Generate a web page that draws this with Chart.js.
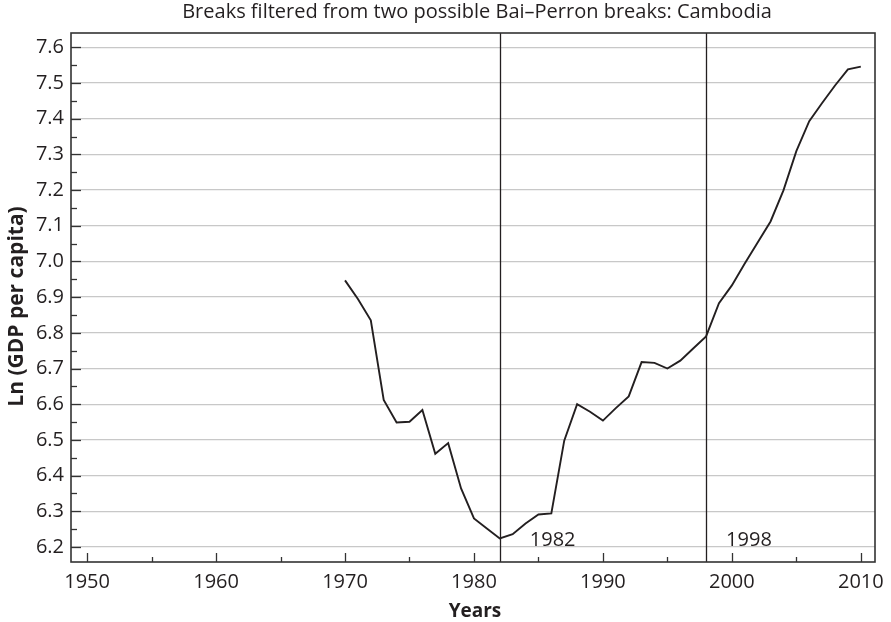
<!DOCTYPE html>
<html><head><meta charset="utf-8">
<script src="https://cdn.jsdelivr.net/npm/chart.js@4.4.0/dist/chart.umd.min.js"></script>
<style>html,body{margin:0;padding:0;background:#fff;}</style>
</head><body>
<canvas id="c" width="891" height="622"></canvas>
<script>
const chartTitle = 'Breaks filtered from two possible Bai\u2013Perron breaks: Cambodia';
const xAxisTitle = 'Years';
const yAxisTitle = 'Ln (GDP per capita)';
const years = [1970,1971,1972,1973,1974,1975,1976,1977,1978,1979,
               1980,1981,1982,1983,1984,1985,1986,1987,1988,1989,
               1990,1991,1992,1993,1994,1995,1996,1997,1998,1999,
               2000,2001,2002,2003,2004,2005,2006,2007,2008,2009,2010];
const lnGdp = [6.947,6.895,6.835,6.612,6.549,6.551,6.584,6.461,6.491,6.364,
               6.280,6.252,6.224,6.236,6.266,6.291,6.294,6.498,6.600,6.579,
               6.554,6.589,6.622,6.718,6.716,6.700,6.722,6.756,6.790,6.883,
               6.933,6.994,7.053,7.112,7.199,7.309,7.393,7.444,7.493,7.538,7.546];
const breakYears = [1982, 1998];
const breakLabels = ['1982', '1998'];
const xTickValues = [1950,1960,1970,1980,1990,2000,2010];
const xMinorTickValues = [1955,1965,1975,1985,1995,2005];
const yTickValues = [6.2,6.3,6.4,6.5,6.6,6.7,6.8,6.9,7.0,7.1,7.2,7.3,7.4,7.5,7.6];
const yMinorTickValues = [6.25,6.35,6.45,6.55,6.65,6.75,6.85,6.95,7.05,7.15,7.25,7.35,7.45,7.55];

const FONT = "'Open Sans', 'Noto Sans', sans-serif";
const ink = '#231f20';

const overlay = {
  id: 'overlay',
  afterDraw(chart) {
    const {ctx, chartArea: a, scales: {x, y}} = chart;
    ctx.save();
    // break lines
    ctx.strokeStyle = ink; ctx.lineWidth = 1.3;
    breakYears.forEach(b => {
      const px = Math.round(x.getPixelForValue(b)) + 0.5;
      ctx.beginPath(); ctx.moveTo(px, a.top); ctx.lineTo(px, a.bottom); ctx.stroke();
    });
    // break labels
    const offs = [30, 20];
    ctx.fillStyle = ink; ctx.font = '20px ' + FONT; ctx.textAlign = 'left'; ctx.textBaseline = 'alphabetic';
    breakYears.forEach((b, i) => {
      ctx.fillText(breakLabels[i], x.getPixelForValue(b) + offs[i], y.getPixelForValue(6.2) - 1);
    });
    // ticks
    ctx.strokeStyle = '#333'; ctx.lineWidth = 1.3;
    const tick = (x0, y0, x1, y1) => { ctx.beginPath(); ctx.moveTo(x0, y0); ctx.lineTo(x1, y1); ctx.stroke(); };
    xTickValues.forEach(v => { const px = Math.round(x.getPixelForValue(v)) + 0.5; tick(px, a.bottom, px, a.bottom - 9); });
    xMinorTickValues.forEach(v => { const px = Math.round(x.getPixelForValue(v)) + 0.5; tick(px, a.bottom, px, a.bottom - 5); });
    yTickValues.forEach(v => { const py = Math.round(y.getPixelForValue(v)) + 0.5; tick(a.left, py, a.left + 10, py); });
    yMinorTickValues.forEach(v => { const py = Math.round(y.getPixelForValue(v)) + 0.5; tick(a.left, py, a.left + 6, py); });
    // frame
    ctx.strokeStyle = '#333'; ctx.lineWidth = 1.6;
    ctx.strokeRect(a.left, a.top, a.right - a.left, a.bottom - a.top);
    // chart title
    ctx.fillStyle = ink; ctx.textAlign = 'center'; ctx.textBaseline = 'alphabetic';
    ctx.font = '20px ' + FONT;
    ctx.fillText(chartTitle, (a.left + a.right) / 2 + 4, 18);
    // x axis title
    ctx.font = 'bold 19px ' + FONT;
    ctx.fillText(xAxisTitle, (a.left + a.right) / 2 + 2, 617);
    // y axis title
    ctx.translate(23, (a.top + a.bottom) / 2 + 9);
    ctx.rotate(-Math.PI / 2);
    ctx.font = 'bold 21px ' + FONT;
    ctx.fillText(yAxisTitle, 0, 0);
    ctx.restore();
  }
};

new Chart(document.getElementById('c'), {
  type: 'line',
  data: {
    datasets: [{
      data: years.map((yr, i) => ({x: yr, y: lnGdp[i]})),
      borderColor: ink, borderWidth: 1.9, pointRadius: 0, tension: 0, fill: false
    }]
  },
  options: {
    responsive: false, animation: false,
    layout: {padding: {left: 0, right: 16, top: 33, bottom: 0}},
    plugins: {legend: {display: false}, tooltip: {enabled: false}, title: {display: false}},
    scales: {
      x: {
        type: 'linear', min: 1948.75, max: 2011.1,
        afterBuildTicks: s => { s.ticks = xTickValues.map(v => ({value: v})); },
        afterFit: s => { s.height = 60; },
        ticks: {color: ink, font: {family: FONT, size: 20}, padding: 0, maxRotation: 0, callback: v => String(v)},
        grid: {display: false}, border: {display: false}
      },
      y: {
        min: 6.158, max: 7.64,
        afterBuildTicks: s => { s.ticks = yTickValues.map(v => ({value: v})); },
        afterFit: s => { s.width = 71; },
        ticks: {color: ink, font: {family: FONT, size: 20}, padding: 7, callback: v => Number(v).toFixed(1)},
        grid: {color: '#c8c8c8', lineWidth: 1.3, drawTicks: false}, border: {display: false}
      }
    }
  },
  plugins: [overlay]
});
</script>
</body></html>
